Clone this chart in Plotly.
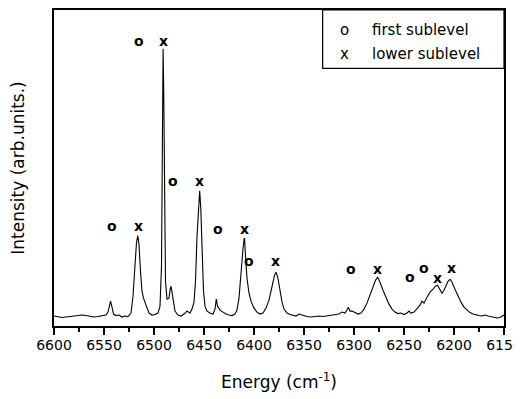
import plotly.graph_objects as go

energy = [6600,6596,6592,6588,6584,6580,6576,6572,6568,6564,
          6560,6556,6552,6548,6546,6544.5,6543.4,6542,6540.5,6538,
          6535,6532,6529,6526,6523,6521,6519,6517.5,6516.2,6515,
          6513.5,6512,6510.5,6509,6507,6505,6502,6499,6496,6494,
          6492.5,6491.5,6490.9,6490.2,6489.5,6488.5,6487,6485,6483.8,6483,
          6482,6480.5,6479,6476,6473,6470,6467,6464,6462,6460,
          6458.5,6457,6455.5,6454.3,6453.2,6452,6450.5,6449,6447,6444,
          6441,6439,6437.7,6436.5,6434,6431,6428,6425,6422,6419,
          6417,6415,6413,6411,6409.8,6409.4,6408.5,6407,6405,6403,
          6400,6397,6394,6391,6388,6385,6383,6381,6379.5,6377.8,
          6376,6374,6372,6370,6367,6364,6361,6358,6355,6351,
          6347,6343,6339,6335,6331,6327,6323,6319,6315,6312,
          6309,6307,6305.7,6304,6302,6299,6296,6293,6290,6287,
          6284,6281,6278.5,6276.4,6274,6271,6268,6265,6262,6259,
          6256,6253,6250,6247,6245,6243,6240,6237,6234,6232,
          6230,6227,6224,6221,6218.5,6216.5,6214.5,6212,6210,6208,
          6206,6203.9,6202,6199,6196,6193,6190,6187,6184,6181,
          6178,6175,6172,6169,6166,6163,6160,6157,6154,6151,
          6150]
intensity = [10,9.5,8.5,9,9.5,10,10.5,11,10.5,10,
             9,9.5,10,11,14,21,25,19,12,10.5,
             11,9,10,9.5,13,30,62,84,91,82,
             55,35,28,24,18,13,11,11.5,13,20,
             60,200,279,230,120,45,27,28,37,40,
             34,22,15,11,10,12,15,13,17,24,
             45,90,125,136,118,75,35,20,15,13,
             12,17,27,20,16,14,12,11,10.5,12,
             16,28,55,78,88,88,70,48,33,25,
             18,14,12,13,18,26,35,45,51,54,
             48,36,24,17,13,11.5,11,10,12,10.5,
             9.5,9,9.5,10,9.5,10,10.5,11,12,14,
             13,16,19,15,15,13.5,12,13,17,23,
             31,40,46,49,44,36,29,22,17,14,
             12.5,13,11.5,13,15,13,14,17,21,25,
             23,29,34,37,40,41,37,33,36,41,
             45,47,44,37,30,24,19,16,13.5,12,
             11,10.5,10,11,10,9.5,9,8,8.5,10,
             11]

# peak assignment labels
label_text = ["o", "x", "o", "x", "o", "x", "o", "x", "o", "x",
              "o", "x", "o", "o", "x", "x"]
label_energy = [6515.5, 6491.0, 6481.3, 6455.0, 6542.3, 6515.9, 6436.0, 6409.4, 6405.0, 6378.8,
                6302.8, 6276.3, 6243.8, 6229.8, 6216.6, 6202.6]
label_intensity = [287, 287, 146, 146, 101, 101, 98, 98, 65, 65,
                   57, 57, 49, 58, 48, 58]

legend_symbols = ["o", "x"]
legend_labels = ["first sublevel", "lower sublevel"]

fig = go.Figure()
fig.add_trace(go.Scatter(x=energy, y=intensity, mode="lines",
                         line=dict(color="black", width=1.1),
                         showlegend=False, hoverinfo="skip"))

for t, e, i in zip(label_text, label_energy, label_intensity):
    fig.add_annotation(x=e, y=i, text="<b>" + t + "</b>", showarrow=False,
                       xanchor="center", yanchor="middle",
                       font=dict(family="DejaVu Sans", size=14, color="black"))

# legend box
fig.add_shape(type="rect", xref="paper", yref="paper", x0=0.597, x1=1.0, y0=0.815, y1=1.0,
              line=dict(color="black", width=1.2), fillcolor="white", layer="above")
for k, (s, lab) in enumerate(zip(legend_symbols, legend_labels)):
    yp = 0.937 - k * 0.075
    fig.add_annotation(xref="paper", yref="paper", x=0.645, y=yp, text=s, showarrow=False,
                       xanchor="center", yanchor="middle",
                       font=dict(family="DejaVu Sans", size=15, color="black"))
    fig.add_annotation(xref="paper", yref="paper", x=0.702, y=yp, text=lab, showarrow=False,
                       xanchor="left", yanchor="middle",
                       font=dict(family="DejaVu Sans", size=15, color="black"))

fig.update_layout(
    width=514, height=391,
    margin=dict(l=46, r=17, t=0, b=73),
    paper_bgcolor="white", plot_bgcolor="white",
    showlegend=False,
    font=dict(family="DejaVu Sans", color="black"),
)
fig.update_xaxes(
    range=[6600, 6150], showgrid=False, zeroline=False,
    showline=True, linecolor="black", linewidth=2, mirror=True,
    ticks="outside", ticklen=7, tickwidth=1.5, tickcolor="black",
    tick0=6600, dtick=50, ticklabeloverflow="allow", ticklabelstandoff=-2,
    minor=dict(ticks="outside", ticklen=4, tickwidth=1.5, tickcolor="black", dtick=25, tick0=6600),
    tickfont=dict(family="DejaVu Sans", size=14, color="black"),
    title=dict(text="Energy (cm<sup>-1</sup>)", standoff=24,
               font=dict(family="DejaVu Sans", size=17, color="black")),
)
fig.update_yaxes(
    range=[0, 318], showgrid=False, zeroline=False,
    showline=True, linecolor="black", linewidth=2, mirror=True,
    showticklabels=False, ticks="",
    title=dict(text="Intensity (arb.units.)", standoff=24,
               font=dict(family="DejaVu Sans", size=17, color="black")),
)

fig.write_html("out.html")
